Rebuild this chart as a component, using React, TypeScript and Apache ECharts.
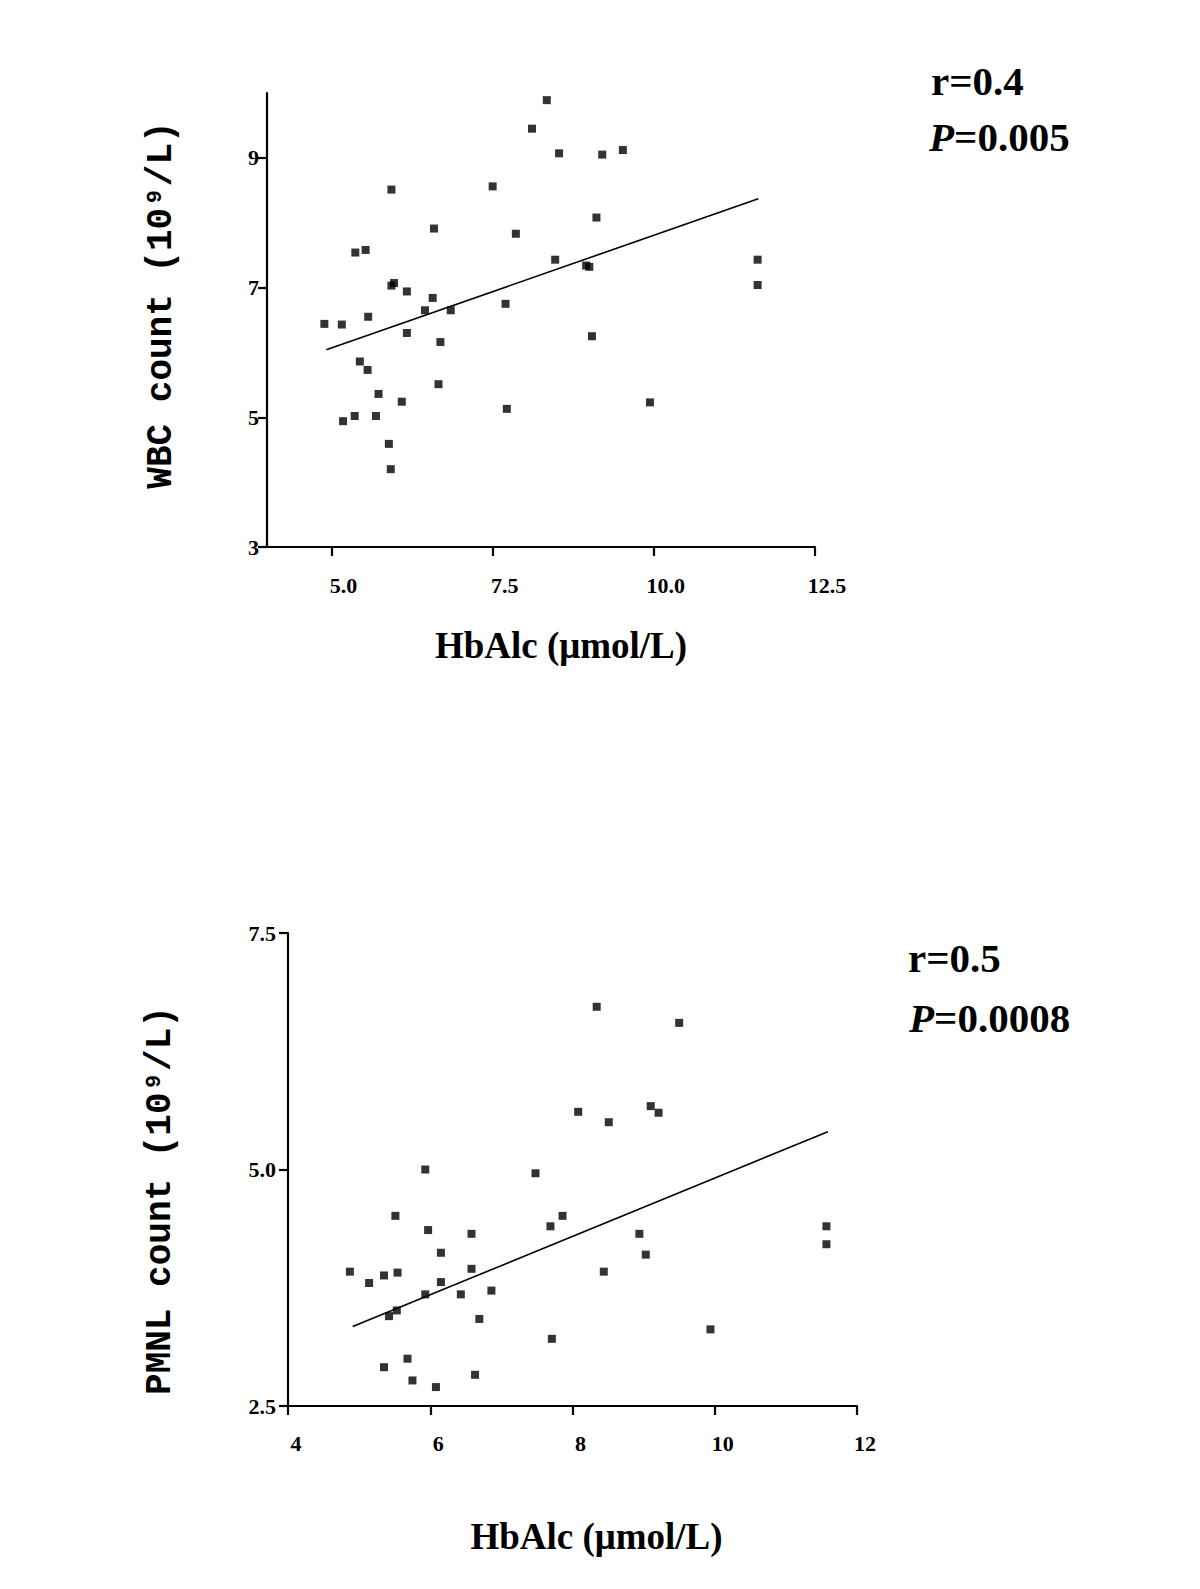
import React, { useEffect, useRef } from "react";
import * as echarts from "echarts";

// ---- Top panel: WBC count vs HbA1c ----
const wbcHbA1c = [
  4.89, 5.16, 5.18, 5.36, 5.37, 5.44, 5.53, 5.56, 5.57, 5.69, 5.73, 5.89, 5.92, 5.93,
  5.93, 5.97, 6.09, 6.17, 6.17, 6.45, 6.57, 6.59, 6.66, 6.69, 6.85, 7.5, 7.7, 7.72,
  7.86, 8.11, 8.34, 8.47, 8.53, 8.95, 9.0, 9.04, 9.11, 9.2, 9.52, 9.94, 11.61, 11.61,
];
const wbcCount = [
  6.44, 6.43, 4.94, 5.02, 7.54, 5.86, 7.58, 5.73, 6.55, 5.02, 5.36, 4.59, 4.2, 8.51,
  7.03, 7.07, 5.24, 6.94, 6.3, 6.65, 6.84, 7.91, 5.51, 6.16, 6.65, 8.56, 6.75, 5.13,
  7.83, 9.45, 9.89, 7.43, 9.07, 7.34, 7.32, 6.25, 8.08, 9.05, 9.12, 5.23, 7.43, 7.04,
];
const wbcFitX = [4.92, 11.62];
const wbcFitY = [6.04, 8.37];
const wbcXTicks = [5, 7.5, 10, 12.5];
const wbcYTicks = [3, 5, 7, 9];

// ---- Bottom panel: PMNL count vs HbA1c ----
const pmnlHbA1c = [
  4.87, 5.14, 5.35, 5.35, 5.42, 5.51, 5.53, 5.54, 5.68, 5.75, 5.93, 5.93, 5.97, 6.08,
  6.15, 6.15, 6.43, 6.58, 6.58, 6.63, 6.69, 6.86, 7.48, 7.69, 7.71, 7.86, 8.08, 8.34,
  8.44, 8.51, 8.94, 9.03, 9.1, 9.21, 9.5, 9.94, 11.57, 11.57,
];
const pmnlCount = [
  3.92, 3.8, 3.88, 2.91, 3.45, 4.51, 3.51, 3.91, 3.0, 2.77, 5.0, 3.68, 4.36, 2.7,
  4.12, 3.81, 3.68, 4.32, 3.95, 2.83, 3.42, 3.72, 4.96, 4.4, 3.21, 4.51, 5.61, 6.72,
  3.92, 5.5, 4.32, 4.1, 5.67, 5.6, 6.55, 3.31, 4.4, 4.21,
];
const pmnlFitX = [4.91, 11.59];
const pmnlFitY = [3.34, 5.4];

const xTitle = "HbAlc (μmol/L)";
const wbcYTitle = "WBC count (10⁹/L)";
const pmnlYTitle = "PMNL count (10⁹/L)";

const zip = (a: number[], b: number[]) => a.map((v, i) => [v, b[i]]);

const SERIF = "Liberation Serif";
const MONO = "Liberation Mono";

export default function App() {
  const ref = useRef<HTMLDivElement>(null);
  useEffect(() => {
    const chart = echarts.init(ref.current!, null, { renderer: "svg" });
    const axisLine = { show: true, onZero: false, lineStyle: { color: "#000", width: 2.2 } };
    const axisTick = { show: true, length: 9, lineStyle: { color: "#000", width: 2.2 } };
    const label = { color: "#000", fontFamily: SERIF, fontWeight: "bold", fontSize: 22 };
    const annFont = `bold 41px "${SERIF}"`;
    const annRich = { i: { fontStyle: "italic", fontWeight: "bold", fontSize: 41, fontFamily: SERIF } };
    chart.setOption({
      animation: false,
      backgroundColor: "#fff",
      grid: [
        { left: 267, right: 385, top: 93, bottom: 1042 },
        { left: 288, right: 343, top: 933, bottom: 183 },
      ],
      xAxis: [
        {
          gridIndex: 0,
          type: "value",
          min: 4,
          max: 12.5,
          splitLine: { show: false },
          axisLine,
          axisTick: { ...axisTick, customValues: wbcXTicks },
          axisLabel: {
            ...label,
            margin: 27,
            padding: [0, 0, 0, 24],
            customValues: wbcXTicks,
            formatter: (v: number) => v.toFixed(1),
          },
          name: xTitle,
          nameLocation: "middle",
          nameGap: 80,
          nameTextStyle: {
            color: "#000",
            fontFamily: SERIF,
            fontWeight: "bold",
            fontSize: 37,
            padding: [0, 0, 0, 40],
          },
        },
        {
          gridIndex: 1,
          type: "value",
          min: 4,
          max: 12,
          interval: 2,
          splitLine: { show: false },
          axisLine,
          axisTick,
          axisLabel: { ...label, margin: 26, padding: [0, 0, 0, 16] },
          name: xTitle,
          nameLocation: "middle",
          nameGap: 112,
          nameTextStyle: {
            color: "#000",
            fontFamily: SERIF,
            fontWeight: "bold",
            fontSize: 37,
            padding: [0, 0, 0, 48],
          },
        },
      ],
      yAxis: [
        {
          gridIndex: 0,
          type: "value",
          min: 3,
          max: 10,
          splitLine: { show: false },
          axisLine,
          axisTick: { ...axisTick, customValues: wbcYTicks },
          axisLabel: { ...label, margin: 8, customValues: wbcYTicks },
          name: wbcYTitle,
          nameLocation: "middle",
          nameGap: 88,
          nameTextStyle: {
            color: "#000",
            fontFamily: MONO,
            fontWeight: "bold",
            fontSize: 36,
            padding: [0, 0, 0, 30],
          },
        },
        {
          gridIndex: 1,
          type: "value",
          min: 2.5,
          max: 7.5,
          interval: 2.5,
          splitLine: { show: false },
          axisLine,
          axisTick,
          axisLabel: { ...label, margin: 12, formatter: (v: number) => v.toFixed(1) },
          name: pmnlYTitle,
          nameLocation: "middle",
          nameGap: 110,
          nameTextStyle: {
            color: "#000",
            fontFamily: MONO,
            fontWeight: "bold",
            fontSize: 36,
            padding: [0, 62, 0, 0],
          },
        },
      ],
      series: [
        {
          type: "scatter",
          xAxisIndex: 0,
          yAxisIndex: 0,
          symbol: "rect",
          symbolSize: 8,
          itemStyle: { color: "#000" },
          data: zip(wbcHbA1c, wbcCount),
        },
        {
          type: "line",
          xAxisIndex: 0,
          yAxisIndex: 0,
          showSymbol: false,
          lineStyle: { color: "#000", width: 1.6 },
          data: zip(wbcFitX, wbcFitY),
        },
        {
          type: "scatter",
          xAxisIndex: 1,
          yAxisIndex: 1,
          symbol: "rect",
          symbolSize: 8,
          itemStyle: { color: "#000" },
          data: zip(pmnlHbA1c, pmnlCount),
        },
        {
          type: "line",
          xAxisIndex: 1,
          yAxisIndex: 1,
          showSymbol: false,
          lineStyle: { color: "#000", width: 1.6 },
          data: zip(pmnlFitX, pmnlFitY),
        },
      ],
      graphic: [
        {
          type: "text",
          left: 931,
          top: 60,
          style: { text: "r=0.4", fill: "#000", font: annFont },
        },
        {
          type: "text",
          left: 929,
          top: 116,
          style: { text: "{i|P}=0.005", fill: "#000", font: annFont, rich: annRich },
        },
        {
          type: "text",
          left: 908,
          top: 937,
          style: { text: "r=0.5", fill: "#000", font: annFont },
        },
        {
          type: "text",
          left: 909,
          top: 997,
          style: { text: "{i|P}=0.0008", fill: "#000", font: annFont, rich: annRich },
        },
      ],
    });
    return () => chart.dispose();
  }, []);
  return (
    <div
      ref={ref}
      style={{ position: "absolute", left: 0, top: 0, width: 1200, height: 1589, background: "#fff" }}
    />
  );
}
